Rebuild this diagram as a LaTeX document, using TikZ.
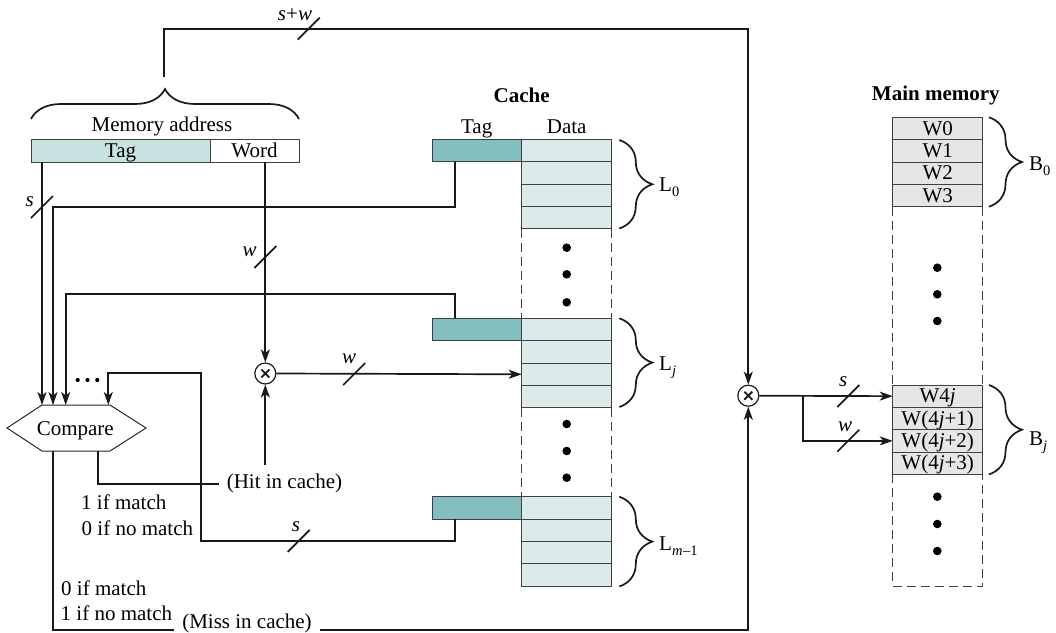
\documentclass[tikz,border=0pt]{standalone}
\usepackage{fontspec}
\setmainfont{Liberation Serif}
\usetikzlibrary{arrows.meta,decorations.pathreplacing,calc}
\definecolor{addrblue}{RGB}{200,226,226}
\definecolor{tagteal}{RGB}{133,190,190}
\definecolor{datafill}{RGB}{220,234,234}
\definecolor{memfill}{RGB}{230,230,230}
\newcommand\lowsub[1]{\raisebox{-5pt}{\fontsize{14.5}{15}\selectfont #1}}
\begin{document}
\begin{tikzpicture}[x=1pt,y=-1pt,
  font=\fontsize{21}{25}\selectfont,
  wire/.style={line width=1.7pt, draw=black!90},
  arr/.style={wire,-{Stealth[length=13pt,width=9pt,inset=3.5pt]}},
  cell/.style={draw=black!75, line width=1pt, inner sep=0pt, outer sep=0pt,
    minimum height=22.4pt, text height=15pt, text depth=1.6pt},
  addrtag/.style={cell, fill=addrblue, minimum width=179pt, minimum height=22.7pt},
  addrword/.style={cell, fill=white, minimum width=89pt, minimum height=22.7pt},
  tagcell/.style={cell, fill=tagteal, minimum width=89.4pt},
  datacell/.style={cell, fill=datafill, minimum width=89.3pt},
  memcell/.style={cell, fill=memfill, minimum width=90pt, minimum height=22.35pt},
  dashedline/.style={draw=black!75, line width=1pt, dash pattern=on 9pt off 5pt},
  bracestyle/.style={wire, decorate, decoration={brace, amplitude=#1}},
  lbl/.style={inner sep=0pt, anchor=base},
  lblw/.style={inner sep=0pt, anchor=base west},
  mux/.style={circle, draw=black!90, line width=1.2pt, minimum size=21pt, inner sep=0pt,
    path picture={\draw[line width=1.8pt] ($(path picture bounding box.center)+(-4,-4)$) -- ($(path picture bounding box.center)+(4,4)$)
      ($(path picture bounding box.center)+(-4,4)$) -- ($(path picture bounding box.center)+(4,-4)$);}},
  dot/.style={fill=black, circle, inner sep=0pt, minimum size=8.6pt}
]
\useasboundingbox (0,0) rectangle (1056,632);
\newcommand\busmark[1]{\draw[wire] ($(#1)+(-11,11)$) -- ($(#1)+(11,-11)$);}

% ---------- memory address ----------
\node[addrtag] (atag) at (120.5,150.65) {Tag};
\node[addrword] (aword) at (254.5,150.65) {Word};
\node[lbl] (maddr) at (162,131) {Memory address};
\draw[bracestyle=30pt] (31,119) -- (299,119);
\coordinate (braceTip) at (164,77);

% ---------- cache ----------
\node[lbl,font=\fontsize{21}{25}\selectfont\bfseries] (cachet) at (521.7,102.7) {Cache};
\node[lbl] (ctag) at (476.7,133.3) {Tag};
\node[lbl] (cdata) at (566.7,133.3) {Data};
\foreach \nm/\top in {0/139.3, j/318.3, m/496.7}{
  \node[tagcell] (t\nm) at (477,\top+11.2) {};
  \foreach \r in {1,2,3,4}{
    \node[datacell] (d\nm-\r) at (566.35,\top+11.2+22.4*\r-22.4) {};
  }
}
\draw[dashedline] (d0-4.south west) -- (dj-1.north west);
\draw[dashedline] (d0-4.south east) -- (dj-1.north east);
\draw[dashedline] (dj-4.south west) -- (dm-1.north west);
\draw[dashedline] (dj-4.south east) -- (dm-1.north east);
\foreach \y in {247.7,274.3,302.3,424,451,477.7}{
  \node[dot] at (566.7,\y) {};
}
\draw[bracestyle=33pt] (619.3,140) -- (619.3,228.5);
\draw[bracestyle=33pt] (619.3,318.3) -- (619.3,407);
\draw[bracestyle=33pt] (619.3,496.7) -- (619.3,586.5);
\node[lblw] (L0) at (659,191.7) {L\lowsub{0}};
\node[lblw] (Lj) at (659,370) {L\lowsub{\textit{j}}};
\node[lblw] (Lm) at (659,550.7) {L\lowsub{\textit{m}\kern0.5pt–1}};

% ---------- main memory ----------
\node[lbl,font=\fontsize{21}{25}\selectfont\bfseries] (mmt) at (935.8,100) {Main memory};
\foreach \r/\t in {1/W0,2/W1,3/W2,4/W3}{
  \node[memcell] (m0-\r) at (937.7,117.3+11.175+22.35*\r-22.35) {\t};
}
\foreach \r/\t in {1/W4\textit{j},2/W(4\textit{j}+1),3/W(4\textit{j}+2),4/W(4\textit{j}+3)}{
  \node[memcell] (mj-\r) at (937.7,385+11.175+22.35*\r-22.35) {\t};
}
\draw[dashedline] (m0-4.south west) -- (mj-1.north west);
\draw[dashedline] (m0-4.south east) -- (mj-1.north east);
\draw[dashedline] (mj-4.south west) -- ++(0,111.6) -| (mj-4.south east);
\foreach \y in {267.7,294.3,321,496.7,524,551}{
  \node[dot] at (937.3,\y) {};
}
\draw[bracestyle=33pt] (989,117.3) -- (989,206.7);
\draw[bracestyle=33pt] (989,385) -- (989,474.4);
\node[lblw] (B0) at (1029,170.7) {B\lowsub{0}};
\node[lblw] (Bj) at (1029,445) {B\lowsub{\textit{j}}};

% ---------- compare ----------
\draw[line width=1pt, draw=black!85] (42,405) -- (110,405) -- (146,428) -- (110,451) -- (42,451) -- (7,428) -- cycle;
\node[lbl] (cmp) at (75.3,435) {Compare};
\coordinate (c1) at (42,405);
\coordinate (c2) at (53,405);
\coordinate (c3) at (65.7,405);
\coordinate (c4) at (108.3,405);
\coordinate (cb1) at (98,451);
\coordinate (cb2) at (52.7,451);
\foreach \x in {77.7,87.5,97.3}{
  \fill (\x,380) circle (2.1);
}

% ---------- multiplexers ----------
\node[mux] (mux1) at (265.3,373.5) {};
\node[mux] (mux2) at (748.3,395.7) {};

% ---------- text nodes ----------
\node[text height=13pt, text depth=5pt, inner xsep=8pt, inner ysep=10.3pt] (hit) at (284.5,484.3) {(Hit in cache)};
\node[anchor=base, inner xsep=8pt, inner ysep=0pt] (miss) at (247,628.5) {(Miss in cache)};
\node[lblw] (m1a) at (81,509) {1 if match};
\node[lblw] (m1b) at (81.5,535) {0 if no match};
\node[lblw] (m2a) at (61,595.7) {0 if match};
\node[lblw] (m2b) at (60.5,620.7) {1 if no match};

% ---------- wires ----------
\coordinate (topR) at (748.3,28.7);
\draw[arr] (braceTip) |- (topR) -- (mux2.north);
\draw[arr] (atag.south -| c1) -- (c1);
\coordinate (k0) at (53,206.7);
\draw[arr] ($(t0.south west)+(22.7,0)$) |- (k0) -- (c2);
\coordinate (k1) at (65.7,294.3);
\draw[arr] ($(tj.north west)+(22.7,0)$) |- (k1) -- (c3);
\coordinate (k2) at (201,540.7);
\coordinate (k3) at (108.3,373.3);
\draw[arr] ($(tm.south west)+(22.7,0)$) |- (k2) |- (k3) -- (c4);
\draw[arr] (aword.south -| mux1) -- (mux1.north);
\draw[arr] (mux1.east) -- (dj-3.west);
\draw[wire] (cb1) |- (hit.west);
\draw[arr] (hit.north -| mux1) -- (mux1.south);
\coordinate (botL) at (0,630);
\draw[wire] (cb2) |- (miss.west |- botL);
\draw[arr] (miss.east |- botL) -| (mux2.south);
\draw[arr] (mux2.east) -- (mj-1.west);
\coordinate (br) at (803.3,395.7);
\draw[arr] (br) |- (mj-3.west);

% ---------- bus marks and labels ----------
\busmark{308.7,28.7}
\busmark{42,207}
\busmark{265.3,257}
\busmark{354.2,374}
\busmark{298.8,540.8}
\busmark{848.3,396}
\busmark{848.3,440.7}
\node[lbl] (lsw) at (295,20.7) {\textit{s}+\textit{w}};
\node[lbl] (ls1) at (29.7,206) {\textit{s}};
\node[lbl] (lw1) at (249.7,256.7) {\textit{w}};
\node[lbl] (lw2) at (349,363.3) {\textit{w}};
\node[lbl] (ls2) at (296,531.7) {\textit{s}};
\node[lbl] (ls3) at (843.3,386.7) {\textit{s}};
\node[lbl] (lw3) at (845,431.7) {\textit{w}};
\end{tikzpicture}
\end{document}
